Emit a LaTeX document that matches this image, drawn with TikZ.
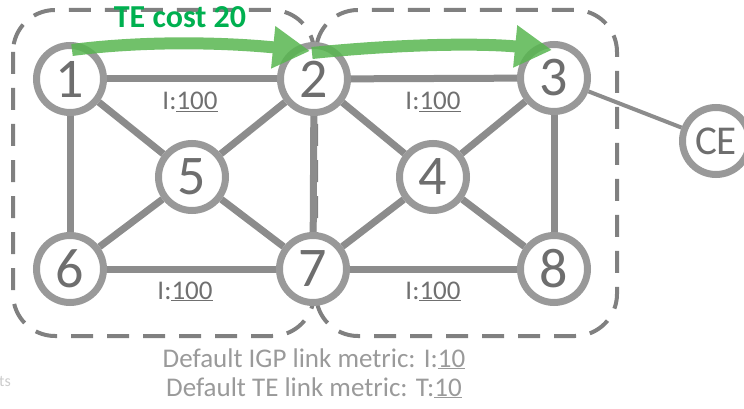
\documentclass[tikz,border=0pt]{standalone}
\usepackage{fontspec}
\setmainfont{Carlito}
\usetikzlibrary{arrows.meta,backgrounds}
\definecolor{linkgray}{HTML}{8C8C8C}
\definecolor{ringgray}{HTML}{999999}
\definecolor{numgray}{HTML}{6E6E6E}
\definecolor{lblgray}{HTML}{707070}
\definecolor{boxgray}{HTML}{808080}
\definecolor{notegray}{HTML}{9A9A9A}
\definecolor{tegreen}{HTML}{00B050}
\definecolor{pathgreen}{RGB}{88,182,80}
\tikzset{
  router/.style={circle, draw=ringgray, line width=7pt, fill=white,
    minimum size=67pt, inner sep=0pt, text=numgray,
    font=\fontsize{56}{64}\selectfont},
  cerouter/.style={router, font=\fontsize{41}{48}\selectfont},
  link/.style={draw=linkgray, line width=7pt},
  celink/.style={draw=linkgray, line width=4pt},
  areabox/.style={draw=boxgray, line width=4pt, dash pattern=on 22pt off 14pt,
    rounded corners=42pt},
  metric/.style={anchor=base, text=lblgray, font=\fontsize{27}{31}\selectfont, inner sep=0pt},
  note/.style={anchor=base, text=notegray, font=\fontsize{27}{31}\selectfont, inner sep=0pt},
  tepath/.style={draw=pathgreen, line width=12pt,
    -{Triangle[length=37pt,width=40pt]}},
}
\begin{document}
\begin{tikzpicture}[x=1pt,y=-1pt]
\useasboundingbox (0,0) rectangle (744,409);

% routers
\node[router] (n1) at (70,79) {1};
\node[router] (n2) at (314,79) {2};
\node[router] (n3) at (554,78) {3};
\node[router] (n5) at (192,177) {5};
\node[router] (n4) at (433,177) {4};
\node[router] (n6) at (70,269) {6};
\node[router] (n7) at (313,269) {7};
\node[router] (n8) at (554,269) {8};
\node[cerouter] (ce) at (716,141) {CE};

% areas and links underneath the routers
\begin{scope}[on background layer]
  \draw[areabox] (13,10) rectangle (314,336);
  \draw[areabox] (316,10) rectangle (617,336);
  \draw[link] (n1) -- (n2);
  \draw[link] (n2) -- (n3);
  \draw[link] (n6) -- (n7);
  \draw[link] (n7) -- (n8);
  \draw[link] (n1) -- (n6);
  \draw[link] (n2) -- (n7);
  \draw[link] (n3) -- (n8);
  \draw[link] (n1) -- (n5);
  \draw[link] (n2) -- (n5);
  \draw[link] (n6) -- (n5);
  \draw[link] (n7) -- (n5);
  \draw[link] (n2) -- (n4);
  \draw[link] (n3) -- (n4);
  \draw[link] (n7) -- (n4);
  \draw[link] (n8) -- (n4);
  \draw[celink] (n3) -- (ce);
\end{scope}

% link metrics
\node[metric] (m12) at (190,110) {I:\underline{100}};
\node[metric] (m23) at (433,110) {I:\underline{100}};
\node[metric] (m67) at (185,299) {I:\underline{100}};
\node[metric] (m78) at (433,299) {I:\underline{100}};

% TE path, each arrow blended as one piece
\coordinate (p1s) at (72,50);
\coordinate (p1e) at (310,51);
\coordinate (p2s) at (312,53);
\coordinate (p2e) at (552,50);
\begin{scope}[transparency group, opacity=0.85]
  \draw[tepath] (p1s) .. controls (150,40) and (230,43) .. (p1e);
\end{scope}
\begin{scope}[transparency group, opacity=0.85]
  \draw[tepath] (p2s) .. controls (400,44) and (480,43) .. (p2e);
\end{scope}
\node[anchor=base, text=tegreen, inner sep=0pt,
  font=\fontsize{32}{38}\selectfont\bfseries] (tecost) at (180,28) {TE cost 20};

% defaults
\node[note] (igp) at (314,367) {Default IGP link metric: I:\underline{10}};
\node[note] (te) at (314,396) {Default TE link metric: T:\underline{10}};
\node[anchor=base west, text=black!20, inner sep=0pt,
  font=\fontsize{16}{18}\selectfont] (frag) at (-1,386) {ts};
\end{tikzpicture}
\end{document}
